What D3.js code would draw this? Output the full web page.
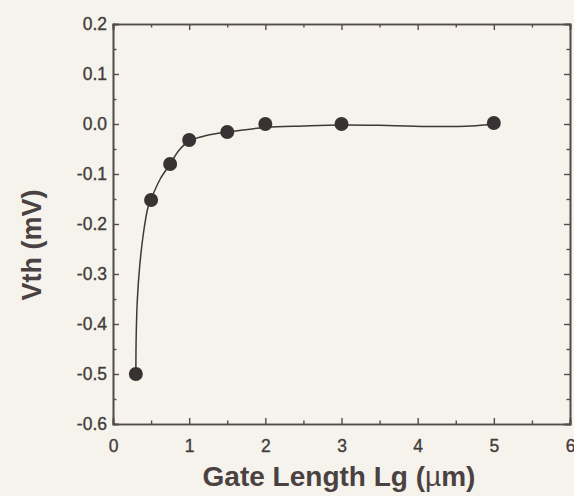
<!DOCTYPE html>
<html>
<head>
<meta charset="utf-8">
<script src="https://cdn.jsdelivr.net/npm/d3@7/dist/d3.min.js"></script>
<style>
 body { margin: 0; background: #f6f3ec; }
 svg { display: block; }
 .tick text { font-family: "Liberation Sans", Arial, sans-serif; font-size: 17.5px; fill: #433c3c; stroke: #433c3c; stroke-width: 0.35px; }
</style>
</head>
<body>
<script>
 // *** measured points: gate length (um) vs threshold shift
 var gateLength = [0.3, 0.5, 0.75, 1.0, 1.5, 2.0, 3.0, 5.0];
 var vthShift = [-0.5, -0.152, -0.08, -0.032, -0.016, 0.0, 0.0, 0.002];

 // *** fitted curve
 var fitX = [0.3, 0.305, 0.32, 0.35, 0.4, 0.46, 0.5, 0.62, 0.75, 0.87, 1.0, 1.25, 1.5, 2.0, 2.5, 3.0, 3.6, 4.2, 4.7, 5.0];
 var fitY = [-0.5, -0.42, -0.35, -0.285, -0.218, -0.166, -0.15, -0.11, -0.08, -0.052, -0.034, -0.022, -0.016, -0.007, -0.004, -0.002, -0.003, -0.005, -0.004, 0.0];

 var xTicks = [0, 1, 2, 3, 4, 5, 6];
 var xTickLabels = ["0", "1", "2", "3", "4", "5", "6"];
 var yTicks = [-0.6, -0.5, -0.4, -0.3, -0.2, -0.1, 0.0, 0.1, 0.2];
 var yTickLabels = ["-0.6", "-0.5", "-0.4", "-0.3", "-0.2", "-0.1", "0.0", "0.1", "0.2"];
 var xMinor = [0.5, 1.5, 2.5, 3.5, 4.5, 5.5];
 var yMinor = [-0.55, -0.45, -0.35, -0.25, -0.15, -0.05, 0.05, 0.15];

 var width = 574
 var height = 496
 var axisColor = "#544b4b"

 var svg = d3.select("body")
  .append("svg")
  .attr("width", width)
  .attr("height", height);

 var xScale = d3.scaleLinear().domain([0, 6]).range([113, 570]);
 var yScale = d3.scaleLinear().domain([-0.6, 0.2]).range([424, 24]);

 function styleAxis(g) {
  g.select(".domain").attr("stroke", axisColor).attr("stroke-width", 1.6);
  g.selectAll(".tick line").attr("stroke", axisColor).attr("stroke-width", 1.4);
 }

 // bottom axis
 svg.append("g")
  .attr("transform", "translate(0," + yScale(-0.6) + ")")
  .call(d3.axisBottom(xScale).tickValues(xTicks).tickSize(-6).tickPadding(16)
   .tickFormat(function(d, i) { return xTickLabels[i]; }))
  .call(styleAxis);
 svg.append("g")
  .attr("transform", "translate(0," + yScale(-0.6) + ")")
  .call(d3.axisBottom(xScale).tickValues(xMinor).tickSize(-3.5).tickFormat(""))
  .call(styleAxis);

 // top axis
 svg.append("g")
  .attr("transform", "translate(0," + yScale(0.2) + ")")
  .call(d3.axisTop(xScale).tickValues(xTicks).tickSize(-6).tickFormat(""))
  .call(styleAxis);
 svg.append("g")
  .attr("transform", "translate(0," + yScale(0.2) + ")")
  .call(d3.axisTop(xScale).tickValues(xMinor).tickSize(-3.5).tickFormat(""))
  .call(styleAxis);

 // left axis
 svg.append("g")
  .attr("transform", "translate(" + xScale(0) + ",0)")
  .call(d3.axisLeft(yScale).tickValues(yTicks).tickSize(-6).tickPadding(6)
   .tickFormat(function(d, i) { return yTickLabels[i]; }))
  .call(styleAxis);
 svg.append("g")
  .attr("transform", "translate(" + xScale(0) + ",0)")
  .call(d3.axisLeft(yScale).tickValues(yMinor).tickSize(-3.5).tickFormat(""))
  .call(styleAxis);

 // right axis
 svg.append("g")
  .attr("transform", "translate(" + xScale(6) + ",0)")
  .call(d3.axisRight(yScale).tickValues(yTicks).tickSize(-6).tickFormat(""))
  .call(styleAxis);
 svg.append("g")
  .attr("transform", "translate(" + xScale(6) + ",0)")
  .call(d3.axisRight(yScale).tickValues(yMinor).tickSize(-3.5).tickFormat(""))
  .call(styleAxis);

 // fitted line
 var fit = fitX.map(function(d, i) { return { x: d, y: fitY[i] }; });
 var line = d3.line()
  .x(function(d) { return xScale(d.x) })
  .y(function(d) { return yScale(d.y) })
  .curve(d3.curveCatmullRom.alpha(0.5));

 svg.append("path")
  .datum(fit)
  .attr("d", line)
  .attr("fill", "none")
  .attr("stroke", "#3f3838")
  .attr("stroke-width", 1.5);

 // data points
 svg.selectAll("circle")
  .data(gateLength)
  .enter()
  .append("circle")
  .attr("cx", function(d) { return xScale(d) })
  .attr("cy", function(d, i) { return yScale(vthShift[i]) })
  .attr("r", 7)
  .attr("fill", "#383232");

 // x axis label
 var xLabel = svg.append("text")
  .attr("x", 339)
  .attr("y", 486)
  .style("text-anchor", "middle")
  .style("font-family", "'Liberation Sans', Arial, sans-serif")
  .style("font-size", "28px")
  .style("font-weight", "bold")
  .attr("fill", "#4a4242");
 xLabel.append("tspan").text("Gate Length Lg (");
 xLabel.append("tspan").style("font-weight", "normal").text("\u00b5");
 xLabel.append("tspan").text("m)");

 // y axis label
 svg.append("text")
  .attr("transform", "translate(41,245) rotate(-90)")
  .style("text-anchor", "middle")
  .style("font-family", "'Liberation Sans', Arial, sans-serif")
  .style("font-size", "27px")
  .style("font-weight", "bold")
  .attr("fill", "#4a4242")
  .text("Vth (mV)");
</script>
</body>
</html>
